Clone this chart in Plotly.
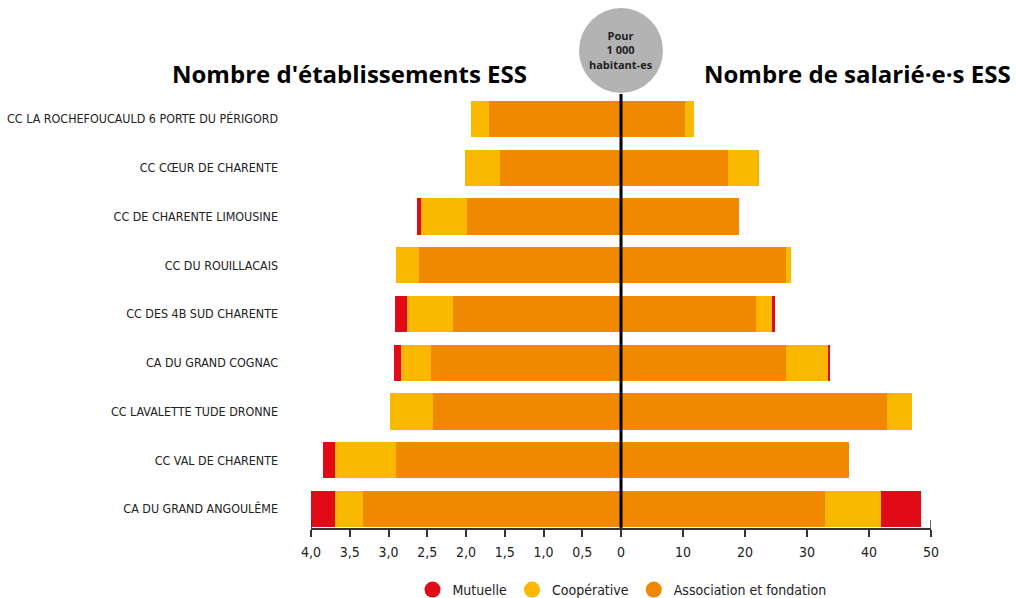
import plotly.graph_objects as go

W, H = 1016, 598

categories = [
    "CC LA ROCHEFOUCAULD 6 PORTE DU PÉRIGORD",
    "CC CŒUR DE CHARENTE",
    "CC DE CHARENTE LIMOUSINE",
    "CC DU ROUILLACAIS",
    "CC DES 4B SUD CHARENTE",
    "CA DU GRAND COGNAC",
    "CC LAVALETTE TUDE DRONNE",
    "CC VAL DE CHARENTE",
    "CA DU GRAND ANGOULÊME",
]

# Etablissements ESS pour 1 000 habitant-es
etab_asso = [1.70, 1.56, 1.99, 2.61, 2.17, 2.45, 2.42, 2.90, 3.33]
etab_coop = [0.23, 0.45, 0.59, 0.29, 0.59, 0.39, 0.56, 0.79, 0.36]
etab_mut = [0.00, 0.00, 0.05, 0.00, 0.16, 0.09, 0.00, 0.16, 0.31]

# Salarié·e·s ESS pour 1 000 habitant-es
sal_asso = [10.4, 17.3, 19.1, 26.6, 21.7, 26.6, 42.9, 36.8, 32.9]
sal_coop = [1.45, 5.0, 0.0, 0.8, 2.7, 6.8, 4.0, 0.0, 9.1]
sal_mut = [0.0, 0.0, 0.0, 0.0, 0.5, 0.3, 0.0, 0.0, 6.4]

left_ticks = [4.0, 3.5, 3.0, 2.5, 2.0, 1.5, 1.0, 0.5, 0.0]
left_labels = ["4,0", "3,5", "3,0", "2,5", "2,0", "1,5", "1,0", "0,5", "0"]
right_ticks = [0, 10, 20, 30, 40, 50]
right_labels = ["", "10", "20", "30", "40", "50"]

series_names = ["Mutuelle", "Coopérative", "Association et fondation"]
C_MUT, C_COOP, C_ASSO = "#E30A17", "#FAB900", "#F08800"

COND = "DejaVu Sans Condensed, Liberation Sans Narrow, Arial Narrow, sans-serif"
BOLD = "Open Sans, Noto Sans, sans-serif"

def px(x):
    return x / W

def py(y):
    return 1 - y / H

fig = go.Figure()
BW = 0.74
for vals, col in [(etab_asso, C_ASSO), (etab_coop, C_COOP), (etab_mut, C_MUT)]:
    fig.add_trace(go.Bar(y=categories, x=vals, orientation="h", marker=dict(color=col, line=dict(width=0)),
                         width=BW, xaxis="x", yaxis="y", showlegend=False, hoverinfo="x+y"))
for vals, col in [(sal_asso, C_ASSO), (sal_coop, C_COOP), (sal_mut, C_MUT)]:
    fig.add_trace(go.Bar(y=categories, x=vals, orientation="h", marker=dict(color=col, line=dict(width=0)),
                         width=BW, xaxis="x2", yaxis="y", showlegend=False, hoverinfo="x+y"))

for name, col in zip(series_names, [C_MUT, C_COOP, C_ASSO]):
    fig.add_trace(go.Scatter(x=[None], y=[None], mode="markers", name=name,
                             marker=dict(color=col, size=16, symbol="circle"),
                             xaxis="x2", yaxis="y", showlegend=True))

axis_common = dict(showgrid=False, zeroline=False, showline=True, linecolor="#333", linewidth=1.5,
                   ticks="outside", ticklen=7, tickwidth=1.5, tickcolor="#333",
                   tickfont=dict(family=COND, size=14, color="#222"), ticklabelstandoff=3,
                   fixedrange=True, anchor="y")

fig.update_layout(
    width=W, height=H,
    margin=dict(l=0, r=0, t=0, b=0, autoexpand=False),
    paper_bgcolor="white", plot_bgcolor="white",
    barmode="stack", bargap=0.26,
    xaxis=dict(domain=[px(311), px(621)], range=[4, 0], tickmode="array",
               tickvals=left_ticks, ticktext=left_labels, **axis_common),
    xaxis2=dict(domain=[px(621), px(931)], range=[0, 50], tickmode="array",
                tickvals=right_ticks, ticktext=right_labels, **axis_common),
    yaxis=dict(domain=[py(528), py(94.6)], range=[-0.39, 8.5], type="category",
               categoryorder="array", categoryarray=categories[::-1],
               showline=False, showgrid=False, zeroline=False, ticks="",
               tickfont=dict(family=COND, size=12.4, color="#222"), ticklabelstandoff=32,
               anchor="x", fixedrange=True),
    legend=dict(orientation="h", x=px(622), xanchor="center", y=py(590), yanchor="middle",
                font=dict(family=COND, size=14, color="#222"), itemwidth=30,
                traceorder="normal", bgcolor="rgba(0,0,0,0)"),
    showlegend=True,
)

shapes = [
    dict(type="circle", xref="paper", yref="paper", x0=px(579), x1=px(663), y0=py(93), y1=py(8),
         fillcolor="#B3B3B3", line=dict(width=0), layer="above"),
    dict(type="line", xref="paper", yref="paper", x0=px(621), x1=px(621), y0=py(94), y1=py(528),
         line=dict(color="black", width=3), layer="above"),
    dict(type="line", xref="x", yref="paper", x0=4, x1=4, y0=py(520), y1=py(528),
         line=dict(color="#333", width=1.5)),
    dict(type="line", xref="x2", yref="paper", x0=50, x1=50, y0=py(520), y1=py(528),
         line=dict(color="#333", width=1.5)),
]
fig.update_layout(shapes=shapes)

fig.add_annotation(xref="paper", yref="paper", x=px(621), y=py(50), text="<b>Pour<br>1 000<br>habitant-es</b>",
                   showarrow=False, font=dict(family=BOLD, size=11, color="#222"), align="center",
                   xanchor="center", yanchor="middle")
fig.add_annotation(xref="paper", yref="paper", x=px(529), y=py(73), text="<b>Nombre d'établissements ESS</b>",
                   showarrow=False, font=dict(family=BOLD, size=24, color="#000"),
                   xanchor="right", yanchor="middle")
fig.add_annotation(xref="paper", yref="paper", x=px(702), y=py(73), text="<b>Nombre de salarié·e·s ESS</b>",
                   showarrow=False, font=dict(family=BOLD, size=24, color="#000"),
                   xanchor="left", yanchor="middle")

fig.write_html("out.html", config={"displayModeBar": False},
               post_script="document.body.style.margin='0px';")
